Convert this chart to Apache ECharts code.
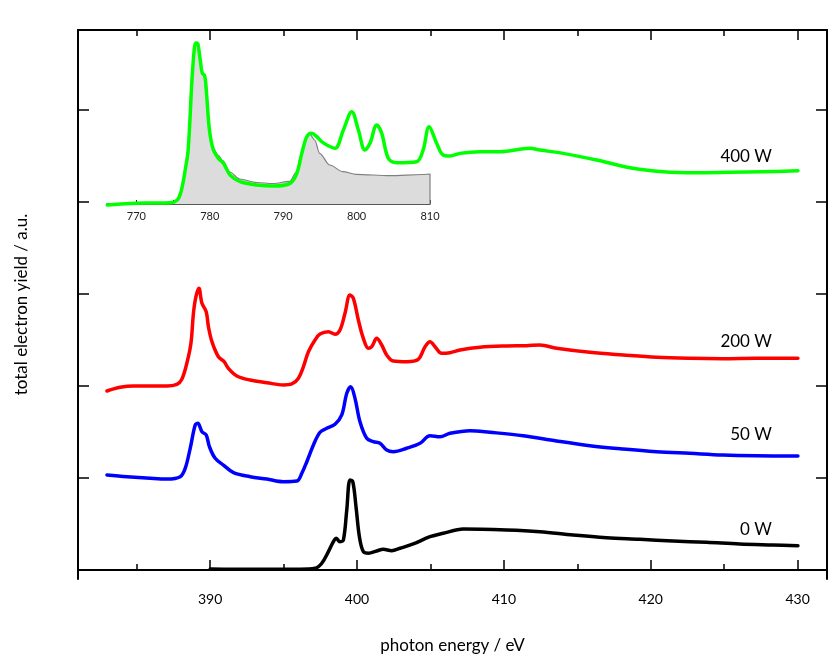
<!DOCTYPE html>
<html>
<head>
<meta charset="utf-8">
<script src="https://cdn.jsdelivr.net/npm/echarts@6/dist/echarts.min.js"></script>
<style>
html,body{margin:0;padding:0;background:#fff;}
#chart{width:830px;height:661px;}
</style>
</head>
<body>
<div id="chart"></div>
<script>
// ---- tick labels ----
const xMajorTicks = [390, 400, 410, 420, 430];
const xMinorTicks = [385, 395, 405, 415, 425];
const yTicks = [0, 1, 2, 3, 4, 5];
const insetTicks = [770, 775, 780, 785, 790, 795, 800, 805, 810];
const insetLabels = [770, 780, 790, 800, 810];

// ---- series names ----
const seriesNames = ['400 W', '200 W', '50 W', '0 W'];

// ---- 400 W (green) ----
const e400 = [383.0,384.56,385.92,387.28,387.76,387.99,388.16,388.30,388.50,388.76,388.91,389.01,389.15,389.25,389.35,389.46,389.63,389.76,389.95,390.22,390.56,390.90,391.36,392.04,393.18,394.31,395.44,395.90,396.24,396.58,396.92,397.26,397.60,397.94,398.50,399.07,399.64,400.09,400.54,400.88,401.34,401.68,402.13,402.70,404.06,404.50,404.91,405.42,405.86,406.33,407.01,408.37,409.73,411.77,412.45,414.03,416.31,418.57,420.84,423.11,425.37,427.64,430.02];
const y400 = [3.967,3.984,3.989,3.992,4.022,4.098,4.217,4.348,4.565,5.326,5.652,5.728,5.723,5.630,5.511,5.402,5.370,5.163,4.783,4.565,4.475,4.421,4.293,4.221,4.185,4.174,4.203,4.312,4.529,4.710,4.747,4.710,4.655,4.620,4.584,4.783,4.982,4.783,4.565,4.638,4.837,4.747,4.475,4.427,4.438,4.565,4.818,4.638,4.511,4.500,4.529,4.547,4.547,4.584,4.565,4.529,4.457,4.373,4.329,4.318,4.323,4.329,4.340];

// ---- inset: Cu L-edge reference (grey) ----
const eRef = [766.0,774.83,775.51,775.99,776.33,776.60,777.01,777.51,777.82,778.03,778.30,778.50,778.71,778.91,779.25,779.52,779.90,780.45,781.13,781.81,782.72,784.08,786.35,788.61,790.88,791.80,792.48,793.16,793.61,794.29,794.97,796.33,798.14,799.96,804.49,809.02,810.0,810.0];
const yRef = [3.978,3.984,4.022,4.098,4.217,4.348,4.565,5.326,5.652,5.728,5.723,5.630,5.511,5.402,5.370,5.163,4.783,4.587,4.511,4.446,4.326,4.250,4.212,4.201,4.223,4.326,4.529,4.710,4.739,4.674,4.529,4.402,4.329,4.301,4.286,4.299,4.304,3.978];

// ---- 200 W (red) ----
const e200 = [382.97,383.88,384.78,385.92,387.05,387.73,388.07,388.41,388.69,388.86,389.03,389.23,389.44,389.73,389.88,390.12,390.56,390.95,391.24,391.82,392.72,393.86,394.99,395.56,396.01,396.35,396.69,397.14,397.48,398.05,398.50,398.84,399.18,399.52,399.75,400.09,400.43,400.77,401.00,401.34,401.68,402.02,402.47,403.38,404.17,404.63,404.97,405.31,405.76,406.33,407.01,408.37,410.18,411.54,412.45,413.59,415.85,418.12,420.39,422.65,424.92,427.19,430.02];
const y200 = [1.946,1.986,2.0,2.0,2.0,2.018,2.073,2.247,2.464,2.790,2.971,3.062,2.899,2.808,2.645,2.482,2.318,2.264,2.192,2.109,2.065,2.036,2.011,2.022,2.084,2.210,2.373,2.5,2.565,2.590,2.562,2.609,2.790,2.989,2.953,2.717,2.518,2.410,2.427,2.518,2.446,2.337,2.272,2.264,2.290,2.427,2.482,2.427,2.355,2.362,2.391,2.421,2.435,2.438,2.446,2.410,2.366,2.337,2.312,2.301,2.297,2.301,2.301];

// ---- 50 W (blue) ----
const e50 = [382.97,384.33,385.92,387.05,387.96,388.30,388.64,388.98,389.16,389.44,389.73,389.95,390.34,390.90,391.59,392.72,393.86,394.99,395.90,396.24,396.58,397.03,397.48,397.94,398.50,398.96,399.30,399.57,399.86,400.20,400.66,401.11,401.56,402.02,402.47,403.38,404.29,404.97,405.65,406.33,407.69,409.05,411.31,413.59,415.85,418.12,420.39,422.65,424.92,427.19,430.02];
const y50 = [1.033,1.014,0.997,0.989,1.014,1.105,1.323,1.576,1.595,1.503,1.467,1.340,1.214,1.141,1.058,1.014,0.989,0.960,0.967,1.051,1.177,1.359,1.497,1.540,1.584,1.685,1.921,1.992,1.866,1.612,1.432,1.395,1.377,1.304,1.286,1.323,1.377,1.460,1.449,1.486,1.514,1.497,1.460,1.402,1.351,1.315,1.286,1.268,1.250,1.242,1.239];

// ---- 0 W (black) ----
const e0 = [390.0,391.59,393.86,396.12,397.14,397.60,398.05,398.39,398.57,398.84,399.07,399.30,399.52,399.71,399.93,400.16,400.43,400.77,401.34,401.79,402.36,402.93,403.83,404.97,405.87,407.23,410.18,412.45,414.71,416.99,419.25,421.52,423.79,426.05,428.32,430.02];
const y0 = [0.011,0.008,0.008,0.008,0.018,0.073,0.199,0.308,0.345,0.308,0.326,0.652,0.978,0.960,0.688,0.362,0.199,0.182,0.207,0.225,0.210,0.236,0.283,0.362,0.399,0.446,0.435,0.416,0.380,0.351,0.334,0.315,0.301,0.283,0.272,0.264];

const zip = (a, b) => a.map((v, i) => [v, b[i]]);

const FONT = 'Lato';
const chart = echarts.init(document.getElementById('chart'), null, {renderer: 'canvas'});

const frameLine = {show: true, lineStyle: {color: '#000', width: 2}};
function mainX(pos, ticks, len, showLine, showLabel) {
  return {
    type: 'value', gridIndex: 0, position: pos, min: 381, max: 432,
    axisLine: showLine ? frameLine : {show: false},
    splitLine: {show: false},
    axisTick: {show: true, inside: true, length: len, customValues: ticks, lineStyle: {color: '#000', width: 1.5}},
    axisLabel: showLabel ? {show: true, customValues: xMajorTicks, color: '#000', fontSize: 14, fontFamily: FONT, margin: 13} : {show: false}
  };
}

function endLbl(dx, dy) {
  return {show: true, formatter: '{a}', color: '#000', fontSize: 17, fontFamily: FONT,
          distance: 0, align: 'right', verticalAlign: 'middle', offset: [dx, dy]};
}

const SMOOTH = 0.35;
function curve(i, e, y, color, lbl) {
  return {
    name: seriesNames[i], type: 'line', xAxisIndex: 0, yAxisIndex: 0, data: zip(e, y),
    showSymbol: false, smooth: SMOOTH,
    lineStyle: {color: color, width: 3.5, join: 'round', cap: 'round'}, endLabel: lbl, z: 3
  };
}

const option = {
  animation: false,
  backgroundColor: '#fff',
  grid: [
    {left: 78, right: 3, top: 30, bottom: 82, containLabel: false},
    {left: 107, width: 323, top: 30, height: 174, containLabel: false}
  ],
  xAxis: [
    Object.assign(mainX('bottom', xMajorTicks, 10, true, true), {
      name: 'photon energy / eV', nameLocation: 'middle', nameGap: 58,
      nameTextStyle: {color: '#000', fontSize: 17, fontFamily: FONT}
    }),
    mainX('bottom', xMinorTicks, 6, false, false),
    mainX('top', xMajorTicks, 10, true, false),
    mainX('top', xMinorTicks, 6, false, false),
    {
      type: 'value', gridIndex: 1, position: 'bottom', min: 766, max: 810,
      axisLine: {show: true, lineStyle: {color: '#222', width: 1.5}},
      splitLine: {show: false},
      axisTick: {show: true, inside: true, length: 4, customValues: insetTicks, lineStyle: {color: '#222', width: 1}},
      axisLabel: {show: true, customValues: insetLabels, color: '#222', fontSize: 11, fontFamily: FONT, margin: 7}
    }
  ],
  yAxis: [
    {
      type: 'value', gridIndex: 0, position: 'left', min: -0.098, max: 5.870,
      axisLine: frameLine, splitLine: {show: false},
      axisTick: {show: true, inside: true, length: 11, customValues: yTicks, lineStyle: {color: '#000', width: 1.5}},
      axisLabel: {show: false},
      name: 'total electron yield / a.u.', nameLocation: 'middle', nameGap: 48,
      nameTextStyle: {color: '#000', fontSize: 17, fontFamily: FONT}
    },
    {
      type: 'value', gridIndex: 0, position: 'right', min: -0.098, max: 5.870,
      axisLine: frameLine, splitLine: {show: false},
      axisTick: {show: true, inside: true, length: 11, customValues: yTicks, lineStyle: {color: '#000', width: 1.5}},
      axisLabel: {show: false}
    },
    {type: 'value', gridIndex: 1, min: 3.978, max: 5.870, show: false}
  ],
  series: [
    {
      type: 'line', xAxisIndex: 4, yAxisIndex: 2, data: zip(eRef, yRef), showSymbol: false,
      smooth: 0.3, smoothMonotone: 'x',
      lineStyle: {color: '#808080', width: 1.2},
      areaStyle: {color: '#dcdcdc', opacity: 1, origin: 'start'}, z: 1
    },
    curve(0, e400, y400, '#00ff00', endLbl(-26, -14)),
    curve(1, e200, y200, '#ff0000', endLbl(-26, -17)),
    curve(2, e50, y50, '#0000ff', endLbl(-26, -21)),
    curve(3, e0, y0, '#000000', endLbl(-26, -16))
  ]
};
chart.setOption(option);
</script>
</body>
</html>
